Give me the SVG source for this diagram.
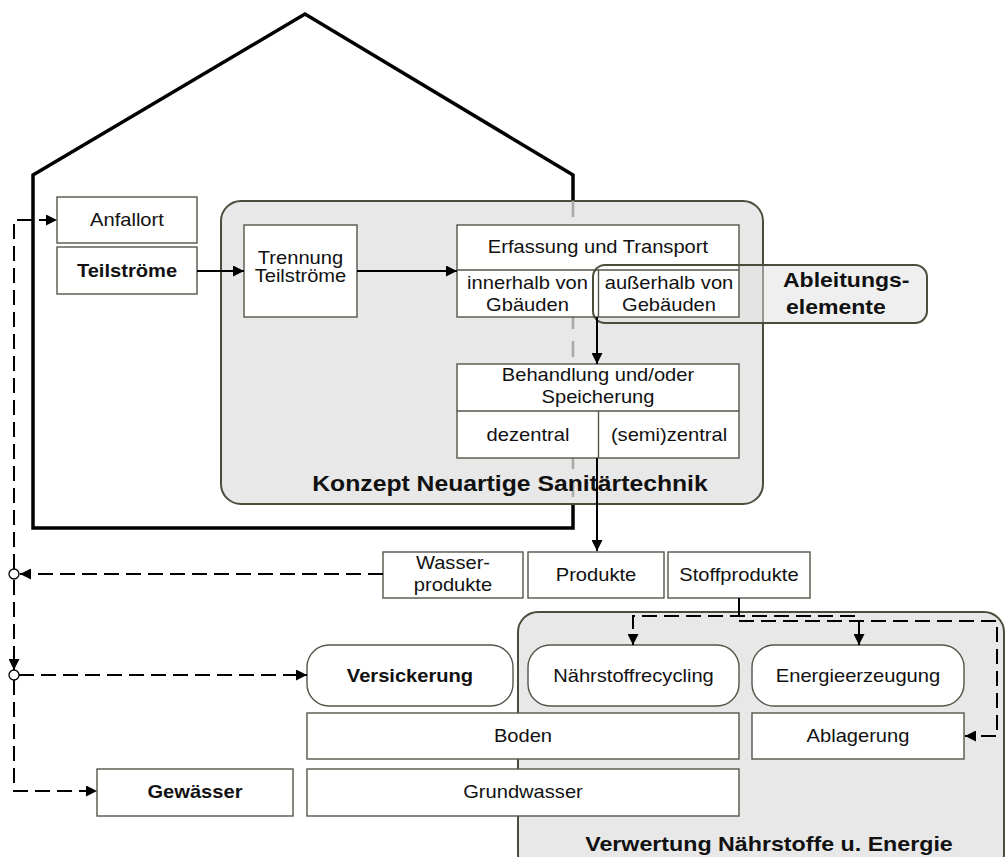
<svg xmlns="http://www.w3.org/2000/svg" width="1008" height="857" viewBox="0 0 1008 857">
  <style>
    .house { fill: none; stroke: #000; stroke-width: 3.5; stroke-linejoin: miter; }
    .wall-hidden { fill: none; stroke: #a8a8a8; stroke-width: 2.5; stroke-dasharray: 16 12; }
    .area { fill: #e8e8e8; stroke: #4c4c3c; stroke-width: 2; }
    .overlay { fill: #e0e0e0; fill-opacity: 0.5; stroke: none; }
    .overlay-edge { fill: none; stroke: #4c4c3c; stroke-width: 2; }
    .box { fill: #fff; stroke: #55554a; stroke-width: 1.4; }
    .div { fill: none; stroke: #55554a; stroke-width: 1.4; }
    .t { font-family: "Liberation Sans", Arial, sans-serif; font-size: 17.5px; fill: #111; text-anchor: middle;
         transform-box: fill-box; transform-origin: center; transform: scaleX(1.15); }
    .b { font-weight: bold; }
    .lbl { font-size: 21px; font-weight: bold; }
    .ls { text-anchor: start; transform-origin: left center; }
    .flow { fill: none; stroke: #000; stroke-width: 2; }
    .dash { fill: none; stroke: #000; stroke-width: 2; stroke-dasharray: 15 7; }
    .joint { fill: #fff; stroke: #000; stroke-width: 1.3; }
  </style>
  <defs>
    <marker id="arrow" viewBox="0 0 10 10" refX="10" refY="5" markerUnits="userSpaceOnUse" markerWidth="12" markerHeight="11" orient="auto">
      <path d="M0,0 L10,5 L0,10 z" fill="#000"/>
    </marker>
  </defs>

  <!-- building outline -->
  <g id="building">
    <polyline class="house" points="33,528 33,175 305,14 573,175 573,528 31.25,528"/>
  </g>

  <!-- concept area -->
  <g id="konzept">
    <rect class="area" x="221" y="201" width="542" height="303" rx="20"/>
    <line class="wall-hidden" x1="573" y1="201" x2="573" y2="506"/>
    <text class="t lbl" x="510" y="491" style="font-size:21.5px">Konzept Neuartige Sanitärtechnik</text>
  </g>

  <!-- utilisation area -->
  <g id="verwertung">
    <rect class="area" x="518" y="612" width="486" height="262" rx="20"/>
    <text class="t lbl" x="769" y="851" style="font-size:20.2px">Verwertung Nährstoffe u. Energie</text>
  </g>

  <g id="anfallort">
    <rect class="box" x="57" y="197" width="140" height="46"/>
    <text class="t" x="127" y="226">Anfallort</text>
  </g>
  <g id="teilstroeme">
    <rect class="box" x="57" y="247" width="140" height="47"/>
    <text class="t b" x="127" y="277">Teilströme</text>
  </g>
  <g id="trennung">
    <rect class="box" x="244" y="225" width="113" height="92"/>
    <text class="t" x="300.5" y="264">Trennung</text>
    <text class="t" x="300.5" y="282">Teilströme</text>
  </g>

  <!-- drainage elements: tinted band under the transport cells -->
  <g id="ableitungselemente">
    <rect class="overlay" x="593" y="265" width="334" height="58" rx="12"/>
    <text class="t lbl ls" x="783" y="287" style="font-size:20px">Ableitungs-</text>
    <text class="t lbl ls" x="786" y="314" style="font-size:20px">elemente</text>
  </g>

  <g id="erfassung">
    <rect class="box" x="457" y="225" width="282" height="92"/>
    <line class="div" x1="457" y1="270" x2="739" y2="270"/>
    <line class="div" x1="598.5" y1="270" x2="598.5" y2="317"/>
    <text class="t" x="598" y="253">Erfassung und Transport</text>
    <text class="t" x="527.5" y="289">innerhalb von</text>
    <text class="t" x="527.5" y="311">Gbäuden</text>
    <text class="t" x="669" y="289">außerhalb von</text>
    <text class="t" x="669" y="311">Gebäuden</text>
  </g>

  <!-- outline of the drainage band, drawn over the transport cells -->
  <g id="ableitungselemente-rand">
    <rect class="overlay-edge" x="593" y="265" width="334" height="58" rx="12"/>
  </g>

  <g id="behandlung">
    <rect class="box" x="457" y="364" width="282" height="94"/>
    <line class="div" x1="457" y1="411" x2="739" y2="411"/>
    <line class="div" x1="598.5" y1="411" x2="598.5" y2="458"/>
    <text class="t" x="598" y="381">Behandlung und/oder</text>
    <text class="t" x="598" y="403">Speicherung</text>
    <text class="t" x="528" y="441">dezentral</text>
    <text class="t" x="669" y="441">(semi)zentral</text>
  </g>
  <g id="wasserprodukte">
    <rect class="box" x="383" y="552" width="140" height="46"/>
    <text class="t" x="453" y="569">Wasser-</text>
    <text class="t" x="453" y="591">produkte</text>
  </g>
  <g id="produkte">
    <rect class="box" x="528" y="552" width="136" height="46"/>
    <text class="t" x="596" y="581">Produkte</text>
  </g>
  <g id="stoffprodukte">
    <rect class="box" x="668" y="552" width="142" height="46"/>
    <text class="t" x="739" y="581">Stoffprodukte</text>
  </g>
  <g id="versickerung">
    <rect class="box" x="307" y="645" width="206" height="61" rx="22"/>
    <text class="t b" x="410" y="682">Versickerung</text>
  </g>
  <g id="naehrstoffrecycling">
    <rect class="box" x="528" y="645" width="211" height="61" rx="22"/>
    <text class="t" x="633.5" y="682">Nährstoffrecycling</text>
  </g>
  <g id="energieerzeugung">
    <rect class="box" x="752" y="645" width="212" height="61" rx="22"/>
    <text class="t" x="858" y="682">Energieerzeugung</text>
  </g>
  <g id="boden">
    <rect class="box" x="307" y="713" width="432" height="46"/>
    <text class="t" x="523" y="742">Boden</text>
  </g>
  <g id="ablagerung">
    <rect class="box" x="752" y="713" width="212" height="46"/>
    <text class="t" x="858" y="742">Ablagerung</text>
  </g>
  <g id="grundwasser">
    <rect class="box" x="307" y="769" width="432" height="47"/>
    <text class="t" x="523" y="798">Grundwasser</text>
  </g>
  <g id="gewaesser">
    <rect class="box" x="97" y="769" width="196" height="47"/>
    <text class="t b" x="195" y="798">Gewässer</text>
  </g>

  <!-- connectors -->
  <g id="connectors">
    <path class="flow" d="M197 271 H244" marker-end="url(#arrow)"/>
    <path class="flow" d="M357 271 H457" marker-end="url(#arrow)"/>
    <path class="flow" d="M597 317 V364" marker-end="url(#arrow)"/>
    <path class="flow" d="M597 458 V551" marker-end="url(#arrow)"/>
    <path class="flow" d="M739 598 V616"/>
    <path class="dash" d="M855 616 H633 V645" marker-end="url(#arrow)"/>
    <path class="dash" d="M739 621 H997 V736 H965" marker-end="url(#arrow)"/>
    <path class="flow" d="M859 621 V645" marker-end="url(#arrow)"/>
    <path class="dash" d="M383 574 H20" marker-end="url(#arrow)"/>
    <path class="dash" d="M14 569 V220 H57" marker-end="url(#arrow)"/>
    <path class="dash" d="M14 580 V670" marker-end="url(#arrow)"/>
    <path class="dash" d="M14 680 V791 H97" marker-end="url(#arrow)"/>
    <path class="dash" d="M19 675 H307" marker-end="url(#arrow)"/>
    <circle class="joint" cx="14" cy="574" r="5"/>
    <circle class="joint" cx="14" cy="675" r="5"/>
  </g>
</svg>
